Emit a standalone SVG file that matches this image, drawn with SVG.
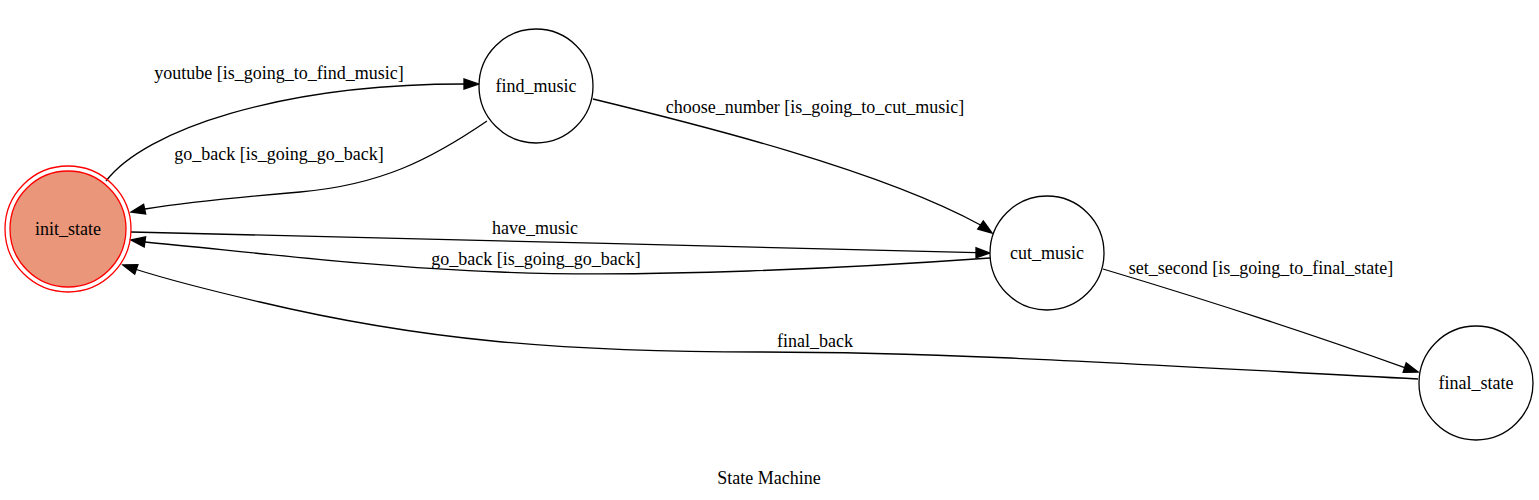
<svg xmlns="http://www.w3.org/2000/svg" width="1539" height="500" viewBox="0 0 1539 500">
<style>
text { font-family: "Liberation Serif", "Times New Roman", serif; font-size: 18px; fill: #000; text-anchor: middle; }
.node { fill: #fff; stroke: #000; stroke-width: 1.3; }
.edge { fill: none; stroke: #000; stroke-width: 1.3; }
.head { fill: #000; stroke: #000; stroke-width: 1.3; }
</style>
<rect x="0" y="0" width="1539" height="500" fill="#fff"/>
<g id="edges">
  <path class="edge" d="M106,181 C145,130 280,84 464,84"/>
  <polygon class="head" points="479,84 464,79 464,89"/>
  <path class="edge" d="M487,121 C430,160 380,185 300,192 C230,198 190,202 145,209"/>
  <polygon class="head" points="131,212 143.6,204.2 145.7,214"/>
  <path class="edge" d="M593,99 C700,125 880,170 980.5,225"/>
  <polygon class="head" points="992,233 977.7,229.1 983.3,220.9"/>
  <path class="edge" d="M131,232 C400,238 700,246 976,252.7"/>
  <polygon class="head" points="990,253 976,247.8 976,257.8"/>
  <path class="edge" d="M990,258 C850,268 650,278 500,272 C380,268 250,252 145,242"/>
  <polygon class="head" points="131,240 145.6,236.9 144.2,246.9"/>
  <path class="edge" d="M1103,269 C1200,298 1300,330 1404.7,367.6"/>
  <polygon class="head" points="1418,372 1403.1,372.4 1406.2,362.9"/>
  <path class="edge" d="M1418,379 C1150,365 950,352 760,352 C560,352 420,340 260,302 C200,288 160,277 136.3,269.5"/>
  <polygon class="head" points="123,265 137.9,264.7 134.7,274.2"/>
  <text x="279" y="79">youtube [is_going_to_find_music]</text>
  <text x="279" y="160">go_back [is_going_go_back]</text>
  <text x="815" y="113">choose_number [is_going_to_cut_music]</text>
  <text x="535" y="234">have_music</text>
  <text x="536" y="265">go_back [is_going_go_back]</text>
  <text x="1261" y="274">set_second [is_going_to_final_state]</text>
  <text x="815" y="347">final_back</text>
</g>
<g id="init_state">
  <circle cx="68" cy="229" r="63" fill="none" stroke="#ff0000" stroke-width="1.3"/>
  <circle cx="68" cy="229" r="58" fill="#e9967a" stroke="#ff0000" stroke-width="1.3"/>
  <text x="68" y="235">init_state</text>
</g>
<g id="find_music">
  <circle class="node" cx="536" cy="86" r="57"/>
  <text x="536" y="92">find_music</text>
</g>
<g id="cut_music">
  <circle class="node" cx="1047" cy="253" r="57"/>
  <text x="1047" y="259">cut_music</text>
</g>
<g id="final_state">
  <circle class="node" cx="1476" cy="383" r="57"/>
  <text x="1476" y="389">final_state</text>
</g>
<text x="769" y="484">State Machine</text>
</svg>
